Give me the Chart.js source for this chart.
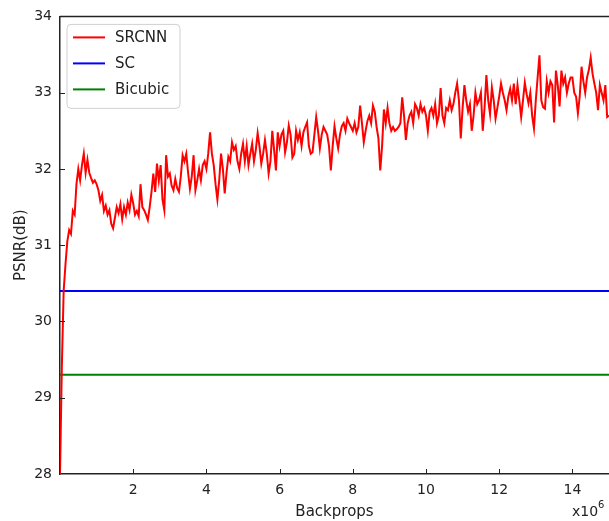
<!DOCTYPE html>
<html>
<head>
<meta charset="UTF-8">
<title>PSNR vs Backprops</title>
<script src="https://cdn.jsdelivr.net/npm/chart.js@4.4.1/dist/chart.umd.min.js"></script>
<style>
    body { margin: 0; background: #fff; }
    canvas { display: block; }
</style>
</head>
<body>
<canvas id="psnrChart" width="609" height="521"></canvas>
<script>
    // sampling step of the SRCNN curve (x10^6 backprops)
    const STEP = 0.05;

    // SRCNN PSNR, one row per 1e6 backprops
    const srcnn = [
        28.00, 29.40, 30.40, 30.75, 31.05, 31.20, 31.15, 31.45, 31.40, 31.80, 32.00, 31.85, 32.05, 32.20, 31.95, 32.12, 31.95, 31.88, 31.82, 31.85,
        31.80, 31.72, 31.58, 31.66, 31.45, 31.52, 31.40, 31.46, 31.28, 31.22, 31.36, 31.50, 31.42, 31.54, 31.34, 31.50, 31.40, 31.56, 31.46, 31.66,
        31.55, 31.40, 31.45, 31.38, 31.80, 31.50, 31.46, 31.40, 31.33, 31.50, 31.70, 31.94, 31.70, 32.07, 31.85, 32.05, 31.60, 31.46, 32.18, 31.90,
        31.94, 31.78, 31.72, 31.87, 31.75, 31.70, 31.90, 32.18, 32.10, 32.20, 31.95, 31.74, 31.90, 32.18, 31.72, 31.85, 32.00, 31.85, 32.05, 32.10,
        32.00, 32.20, 32.48, 32.20, 32.05, 31.80, 31.60, 31.85, 32.20, 32.00, 31.68, 31.95, 32.16, 32.10, 32.35, 32.25, 32.30, 32.10, 32.00, 32.20,
        32.33, 32.10, 32.30, 32.05, 32.20, 32.33, 32.10, 32.25, 32.47, 32.30, 32.07, 32.20, 32.38, 32.20, 31.94, 32.10, 32.50, 32.25, 31.98, 32.48,
        32.30, 32.45, 32.50, 32.22, 32.35, 32.57, 32.45, 32.15, 32.20, 32.50, 32.38, 32.48, 32.30, 32.48, 32.55, 32.61, 32.30, 32.20, 32.22, 32.45,
        32.68, 32.50, 32.27, 32.45, 32.55, 32.50, 32.45, 32.30, 31.98, 32.30, 32.56, 32.40, 32.27, 32.45, 32.56, 32.60, 32.50, 32.66, 32.60, 32.55,
        32.50, 32.60, 32.48, 32.55, 32.83, 32.60, 32.35, 32.50, 32.63, 32.70, 32.60, 32.83, 32.75, 32.55, 32.40, 31.98, 32.30, 32.78, 32.60, 32.80,
        32.60, 32.50, 32.55, 32.50, 32.52, 32.55, 32.60, 32.94, 32.70, 32.38, 32.60, 32.70, 32.75, 32.60, 32.85, 32.80, 32.70, 32.85, 32.75, 32.80,
        32.70, 32.50, 32.75, 32.80, 32.70, 32.85, 32.60, 32.70, 33.06, 32.70, 32.60, 32.80, 32.77, 32.90, 32.77, 32.85, 33.00, 33.12, 32.90, 32.40,
        32.80, 33.10, 32.90, 32.75, 32.85, 32.50, 32.70, 33.00, 32.85, 32.90, 33.00, 32.50, 32.80, 33.23, 32.90, 32.72, 33.07, 32.90, 32.66, 32.80,
        32.95, 33.12, 33.00, 32.90, 32.77, 32.95, 33.05, 32.90, 33.12, 32.85, 33.10, 32.90, 32.68, 32.90, 33.13, 32.98, 32.86, 33.00, 32.70, 32.53,
        32.90, 33.20, 33.49, 32.90, 32.81, 32.79, 33.15, 33.00, 33.15, 33.10, 32.61, 33.29, 33.10, 32.82, 33.29, 33.12, 33.20, 33.00, 33.12, 33.20,
        33.20, 33.00, 32.95, 32.73, 32.95, 33.34, 33.15, 33.00, 33.20, 33.30, 33.46, 33.25, 33.12, 33.00, 32.77, 33.10, 33.00, 32.90, 33.10, 32.68,
        32.70
    ];

    // flat baselines
    const scLevel = 30.4;
    const bicubicLevel = 29.3;

    const seriesNames = ['SRCNN', 'SC', 'Bicubic'];
    const seriesColors = ['#ff0000', '#0000ff', '#008000'];

    const xRange = [0, 15];
    const yRange = [28, 34];
    const xTicks = [2, 4, 6, 8, 10, 12, 14];
    const yTicks = [28, 29, 30, 31, 32, 33, 34];

    const srcnnPoints = srcnn.map((v, i) => ({ x: i * STEP, y: v }));

    const TEXT = '#222';
    const FONT = '"DejaVu Sans", sans-serif';

    // ticks pointing into the plot, top frame line, x10^6 mark
    const framePlugin = {
        id: 'frame',
        afterDatasetsDraw(chart) {
            const ctx = chart.ctx;
            const area = chart.chartArea;
            const xs = chart.scales.x;
            const ys = chart.scales.y;
            ctx.save();
            ctx.strokeStyle = TEXT;
            ctx.lineWidth = 1;
            xTicks.forEach(t => {
                const px = Math.round(xs.getPixelForValue(t)) + 0.5;
                ctx.beginPath();
                ctx.moveTo(px, area.bottom);
                ctx.lineTo(px, area.bottom - 5);
                ctx.stroke();
            });
            yTicks.slice(1, -1).forEach(t => {
                const py = Math.round(ys.getPixelForValue(t)) + 0.5;
                ctx.beginPath();
                ctx.moveTo(area.left, py);
                ctx.lineTo(area.left + 5, py);
                ctx.stroke();
            });
            ctx.lineWidth = 1.5;
            ctx.beginPath();
            ctx.moveTo(area.left, area.top);
            ctx.lineTo(area.right, area.top);
            ctx.stroke();

            ctx.fillStyle = TEXT;
            ctx.font = '14px ' + FONT;
            ctx.textBaseline = 'alphabetic';
            ctx.fillText('x10', 572, 516);
            ctx.font = '10px ' + FONT;
            ctx.fillText('6', 598, 508);
            ctx.restore();
        }
    };

    // legend box drawn in the upper left corner of the plot
    const legendPlugin = {
        id: 'boxLegend',
        afterDraw(chart) {
            const ctx = chart.ctx;
            const area = chart.chartArea;
            const x0 = area.left + 7, y0 = area.top + 8, w = 113, h = 84;
            ctx.save();
            ctx.beginPath();
            ctx.roundRect(x0, y0, w, h, 4);
            ctx.fillStyle = 'rgba(255,255,255,0.85)';
            ctx.fill();
            ctx.strokeStyle = '#d0d0d0';
            ctx.lineWidth = 1;
            ctx.stroke();
            chart.data.datasets.forEach((ds, i) => {
                const cy = y0 + 13 + i * 26;
                ctx.strokeStyle = ds.borderColor;
                ctx.lineWidth = 2;
                ctx.beginPath();
                ctx.moveTo(x0 + 6, cy);
                ctx.lineTo(x0 + 38, cy);
                ctx.stroke();
                ctx.fillStyle = TEXT;
                ctx.font = '15px ' + FONT;
                ctx.textBaseline = 'middle';
                ctx.fillText(ds.label, x0 + 48, cy + 1);
            });
            ctx.restore();
        }
    };

    new Chart(document.getElementById('psnrChart'), {
        type: 'line',
        data: {
            datasets: [
                { label: seriesNames[0], data: srcnnPoints, borderColor: seriesColors[0], borderWidth: 2 },
                { label: seriesNames[1], data: [{ x: xRange[0], y: scLevel }, { x: xRange[1], y: scLevel }], borderColor: seriesColors[1], borderWidth: 2 },
                { label: seriesNames[2], data: [{ x: xRange[0], y: bicubicLevel }, { x: xRange[1], y: bicubicLevel }], borderColor: seriesColors[2], borderWidth: 2 }
            ]
        },
        options: {
            responsive: false,
            animation: false,
            layout: { padding: { top: 16, right: 0, left: 0, bottom: 0 } },
            elements: { point: { radius: 0 }, line: { tension: 0 } },
            plugins: { legend: { display: false }, tooltip: { enabled: false } },
            scales: {
                x: {
                    type: 'linear',
                    min: xRange[0],
                    max: xRange[1],
                    afterBuildTicks: s => { s.ticks = xTicks.map(v => ({ value: v })); },
                    afterFit: s => { s.height = 47; },
                    grid: { display: false, drawTicks: false },
                    border: { display: true, color: TEXT, width: 1.5 },
                    ticks: { color: TEXT, font: { family: FONT, size: 14 }, padding: 8, maxRotation: 0 },
                    title: { display: true, text: 'Backprops', color: TEXT, font: { family: FONT, size: 15 }, padding: { top: 0, bottom: 0 } }
                },
                y: {
                    min: yRange[0],
                    max: yRange[1],
                    afterBuildTicks: s => { s.ticks = yTicks.map(v => ({ value: v })); },
                    afterFit: s => { s.width = 60; },
                    grid: { display: false, drawTicks: false },
                    border: { display: true, color: TEXT, width: 1.5 },
                    ticks: { color: TEXT, font: { family: FONT, size: 14 }, padding: 8 },
                    title: { display: true, text: 'PSNR(dB)', color: TEXT, font: { family: FONT, size: 15 }, padding: { top: 12, bottom: 0 } }
                }
            }
        },
        plugins: [framePlugin, legendPlugin]
    });
</script>
</body>
</html>
